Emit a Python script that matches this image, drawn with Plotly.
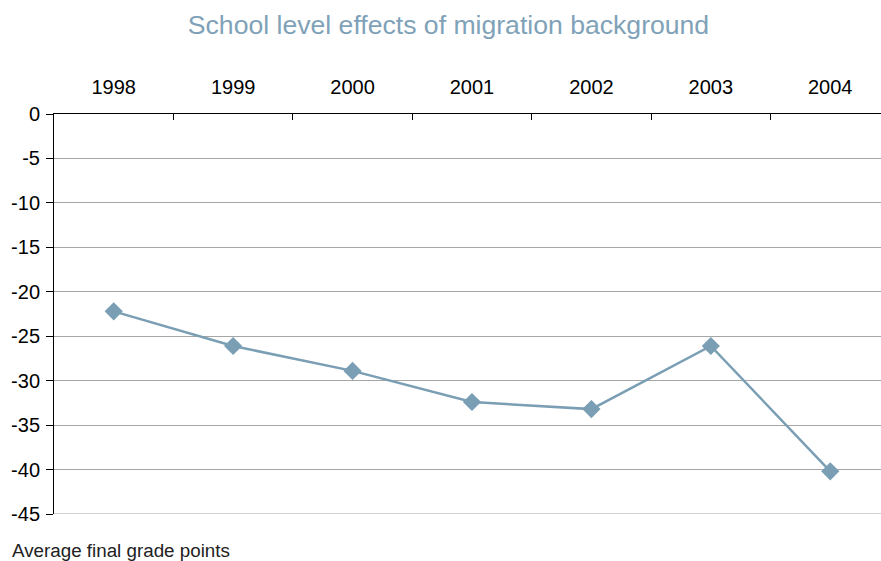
import plotly.graph_objects as go

years = ["1998", "1999", "2000", "2001", "2002", "2003", "2004"]
values = [-22.2, -26.1, -28.9, -32.4, -33.2, -26.1, -40.2]
y_ticks = [0, -5, -10, -15, -20, -25, -30, -35, -40, -45]
y_ticktext = ["0", "-5", "-10", "-15", "-20", "-25", "-30", "-35", "-40", "-45"]

fig = go.Figure()
fig.add_trace(go.Scatter(
    x=years, y=values, mode="lines+markers",
    line=dict(color="#7A9EB4", width=2.5),
    marker=dict(symbol="diamond", size=14, color="#7A9EB4"),
    showlegend=False,
))

fig.update_layout(
    width=881, height=561,
    margin=dict(l=54, r=0, t=114, b=47),
    paper_bgcolor="white", plot_bgcolor="white",
    font=dict(family="Liberation Sans, Arial, sans-serif", size=20, color="black"),
    title=dict(text="School level effects of migration background",
               x=448.5/881, xanchor="center", y=1 - 25/561, yanchor="middle",
               font=dict(size=26.6, color="#7FA2B8")),
    xaxis=dict(type="category", side="top", range=[-0.5, 6.425],
               showline=True, linecolor="black", linewidth=1,
               ticks="inside", tickson="boundaries", ticklen=6, tickcolor="black",
               showgrid=False, ticklabelstandoff=11, zeroline=False),
    yaxis=dict(range=[-45, 0], tickmode="array", tickvals=y_ticks, ticktext=y_ticktext,
               showline=True, linecolor="black", linewidth=1,
               ticks="outside", ticklen=7, tickcolor="black",
               showgrid=True, gridcolor="#A6A6A6", gridwidth=1, zeroline=False,
               ticklabelstandoff=2),
)
fig.add_shape(type="line", xref="paper", yref="y", x0=0, x1=1, y0=-45, y1=-45,
              line=dict(color="#A6A6A6", width=1), layer="below")
fig.add_annotation(text="Average final grade points", xref="paper", yref="paper",
                   x=-44/827, y=-36/400, xanchor="left", yanchor="middle",
                   showarrow=False, font=dict(size=18.8, color="#222222"))

fig.write_html("out.html")
